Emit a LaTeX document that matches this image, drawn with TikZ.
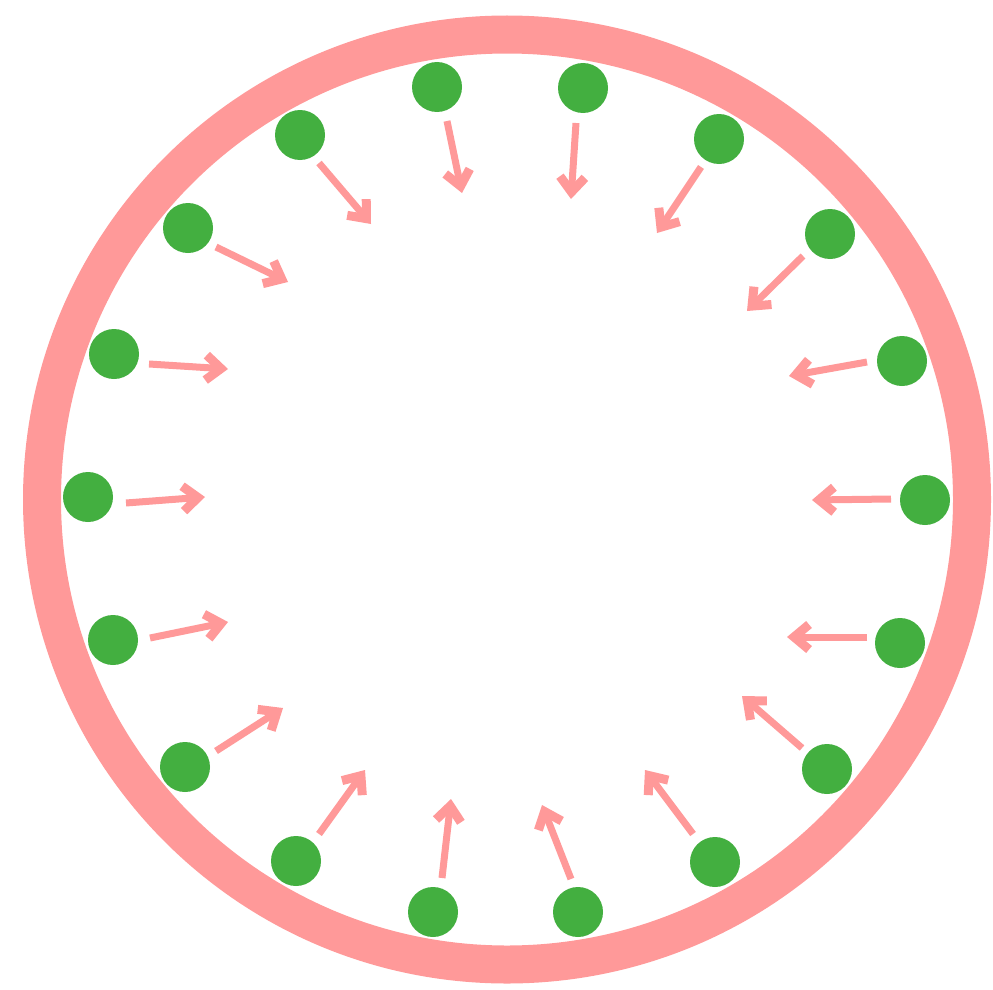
\documentclass[tikz,border=0pt]{standalone}
\usetikzlibrary{arrows.meta}
\definecolor{ringpink}{HTML}{FF9999}
\definecolor{dotgreen}{HTML}{43AF40}
\begin{document}
\begin{tikzpicture}[x=1pt,y=-1pt,
  dotnode/.style={circle,fill=dotgreen,draw=none,minimum size=50pt,inner sep=0pt},
  ringline/.style={draw=ringpink,line width=38pt},
  arr/.style={draw=ringpink,line width=7pt,-{Straight Barb[length=15pt,width=25pt,line width=9pt]}}]
\useasboundingbox (0,0) rectangle (993,990);
\fill[white] (0,0) rectangle (993,990);
\coordinate (c) at (507,499.5);
\draw[ringline] (c) circle[radius=465pt];
% dots
\node[dotnode] (d1) at (437,87) {};
\node[dotnode] (d2) at (583,88) {};
\node[dotnode] (d3) at (719,139) {};
\node[dotnode] (d4) at (830,234) {};
\node[dotnode] (d5) at (902,361) {};
\node[dotnode] (d6) at (925,500) {};
\node[dotnode] (d7) at (900,643) {};
\node[dotnode] (d8) at (827,769) {};
\node[dotnode] (d9) at (715,862) {};
\node[dotnode] (d10) at (578,912) {};
\node[dotnode] (d11) at (433,912) {};
\node[dotnode] (d12) at (296,861) {};
\node[dotnode] (d13) at (185,767) {};
\node[dotnode] (d14) at (113,640) {};
\node[dotnode] (d15) at (88,497) {};
\node[dotnode] (d16) at (114,354) {};
\node[dotnode] (d17) at (188,228) {};
\node[dotnode] (d18) at (300,135) {};
% arrow start and tip coordinates
\coordinate (s1) at (447,121);  \coordinate (t1) at (462,193);
\coordinate (s2) at (576,123);  \coordinate (t2) at (571,199);
\coordinate (s3) at (701,167);  \coordinate (t3) at (657,233);
\coordinate (s4) at (803,256);  \coordinate (t4) at (747,311);
\coordinate (s5) at (867,362);  \coordinate (t5) at (789,376);
\coordinate (s6) at (891,499);  \coordinate (t6) at (812,500);
\coordinate (s7) at (867,637);  \coordinate (t7) at (787,637);
\coordinate (s8) at (802,748);  \coordinate (t8) at (742,696);
\coordinate (s9) at (693,834);  \coordinate (t9) at (645,770);
\coordinate (s10) at (571,879); \coordinate (t10) at (542,805);
\coordinate (s11) at (442,878); \coordinate (t11) at (451,799);
\coordinate (s12) at (319,834); \coordinate (t12) at (365,770);
\coordinate (s13) at (216,751); \coordinate (t13) at (283,708);
\coordinate (s14) at (150,638); \coordinate (t14) at (228,622);
\coordinate (s15) at (126,503); \coordinate (t15) at (205,497);
\coordinate (s16) at (149,364); \coordinate (t16) at (228,369);
\coordinate (s17) at (216,247); \coordinate (t17) at (288,282);
\coordinate (s18) at (319,163); \coordinate (t18) at (371,224);
\foreach \i in {1,...,18}{\draw[arr] (s\i) -- (t\i);}
\end{tikzpicture}
\end{document}
